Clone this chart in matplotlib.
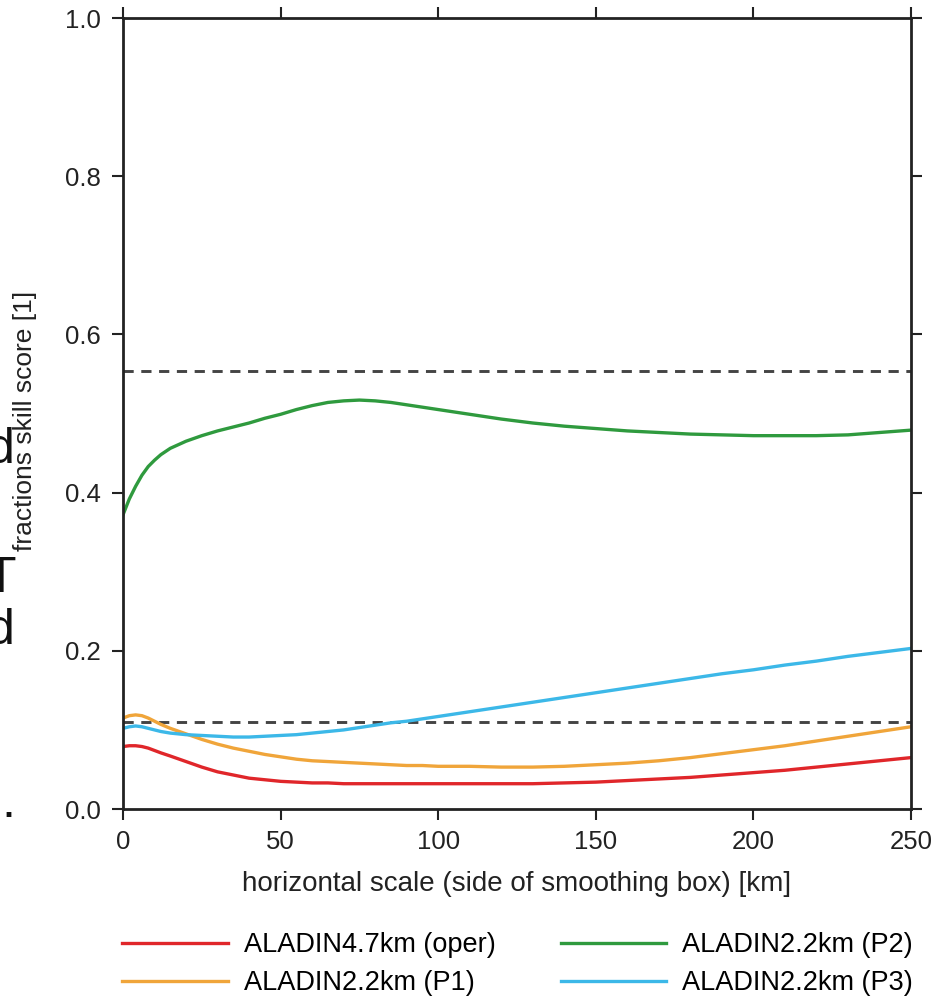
import matplotlib
matplotlib.use("Agg")
import matplotlib.pyplot as plt

plt.rcParams['font.family'] = ['Liberation Sans', 'DejaVu Sans']

# horizontal scale [km]
scale_km = [0, 2, 4, 6, 8, 10, 12, 15, 20, 25, 30, 35, 40, 45, 50, 55, 60, 65, 70, 75,
            80, 85, 90, 95, 100, 110, 120, 130, 140, 150, 160, 170, 180, 190, 200,
            210, 220, 230, 240, 250]

fss_oper = [0.079, 0.080, 0.080, 0.079, 0.077, 0.074, 0.071, 0.067, 0.060, 0.053,
            0.047, 0.043, 0.039, 0.037, 0.035, 0.034, 0.033, 0.033, 0.032, 0.032,
            0.032, 0.032, 0.032, 0.032, 0.032, 0.032, 0.032, 0.032, 0.033, 0.034,
            0.036, 0.038, 0.040, 0.043, 0.046, 0.049, 0.053, 0.057, 0.061, 0.065]
fss_p1 = [0.115, 0.118, 0.119, 0.118, 0.115, 0.111, 0.107, 0.102, 0.095, 0.088,
          0.082, 0.077, 0.073, 0.069, 0.066, 0.063, 0.061, 0.060, 0.059, 0.058,
          0.057, 0.056, 0.055, 0.055, 0.054, 0.054, 0.053, 0.053, 0.054, 0.056,
          0.058, 0.061, 0.065, 0.070, 0.075, 0.080, 0.086, 0.092, 0.098, 0.104]
fss_p2 = [0.372, 0.392, 0.408, 0.422, 0.433, 0.441, 0.448, 0.456, 0.465, 0.472,
          0.478, 0.483, 0.488, 0.494, 0.499, 0.505, 0.510, 0.514, 0.516, 0.517,
          0.516, 0.514, 0.511, 0.508, 0.505, 0.499, 0.493, 0.488, 0.484, 0.481,
          0.478, 0.476, 0.474, 0.473, 0.472, 0.472, 0.472, 0.473, 0.476, 0.479]
fss_p3 = [0.102, 0.104, 0.105, 0.104, 0.102, 0.100, 0.098, 0.096, 0.094, 0.093,
          0.092, 0.091, 0.091, 0.092, 0.093, 0.094, 0.096, 0.098, 0.100, 0.103,
          0.106, 0.109, 0.111, 0.114, 0.117, 0.123, 0.129, 0.135, 0.141, 0.147,
          0.153, 0.159, 0.165, 0.171, 0.176, 0.182, 0.187, 0.193, 0.198, 0.203]

ref_upper = 0.554
ref_lower = 0.110

labels = ["ALADIN4.7km (oper)", "ALADIN2.2km (P1)", "ALADIN2.2km (P2)", "ALADIN2.2km (P3)"]
colors = ["#e0262a", "#f0a53a", "#2f9a3e", "#3cb8e8"]

fig = plt.figure(figsize=(9.42, 10.06), dpi=100)
ax = fig.add_axes([0.1306, 0.1958, 0.8365, 0.7863])

ax.axhline(ref_upper, color="#444444", lw=2.1, ls=(0, (3.5, 2.6)))
ax.axhline(ref_lower, color="#444444", lw=2.1, ls=(0, (3.5, 2.6)))

series = [fss_oper, fss_p1, fss_p2, fss_p3]
handles = []
for ys, c, lab in zip(series, colors, labels):
    h, = ax.plot(scale_km, ys, color=c, lw=2.4, label=lab)
    handles.append(h)

ax.set_xlim(0, 250)
ax.set_ylim(0, 1)
ax.set_xticks([0, 50, 100, 150, 200, 250])
ax.set_yticks([0.0, 0.2, 0.4, 0.6, 0.8, 1.0])
ax.set_yticklabels(["0.0", "0.2", "0.4", "0.6", "0.8", "1.0"])
ax.tick_params(direction="out", length=8, width=1.5, labelsize=18.5, colors="#222222",
               top=True, right=True)
ax.tick_params(axis="x", pad=7)
ax.tick_params(axis="y", pad=8)
for sp in ax.spines.values():
    sp.set_linewidth(2)
    sp.set_color("#222222")

ax.set_xlabel("horizontal scale (side of smoothing box) [km]", fontsize=20, labelpad=12,
              color="#222222")
ax.set_ylabel("fractions skill score [1]", fontsize=19, color="#222222")
ax.yaxis.set_label_coords(-0.109, 0.49)

# legend in two columns below the axes
fig.legend(handles=handles, labels=labels, ncol=2, loc="upper left",
           bbox_to_anchor=(122 / 942, 1 - 932 / 1006), frameon=False, fontsize=19.5,
           borderpad=0, borderaxespad=0, handlelength=3.9, handletextpad=0.6,
           columnspacing=2.4, labelspacing=0.45)

# fragments of neighbouring text at the left edge
for s, y in [("d", 0.540), ("T", 0.412), ("d", 0.360), (".", 0.188)]:
    fig.text(0.016 if s != "T" else 0.001, y, s, fontsize=36, ha="right" if s != "T" else "center",
             va="baseline", color="#111111")

fig.savefig("out.png", dpi=100)
